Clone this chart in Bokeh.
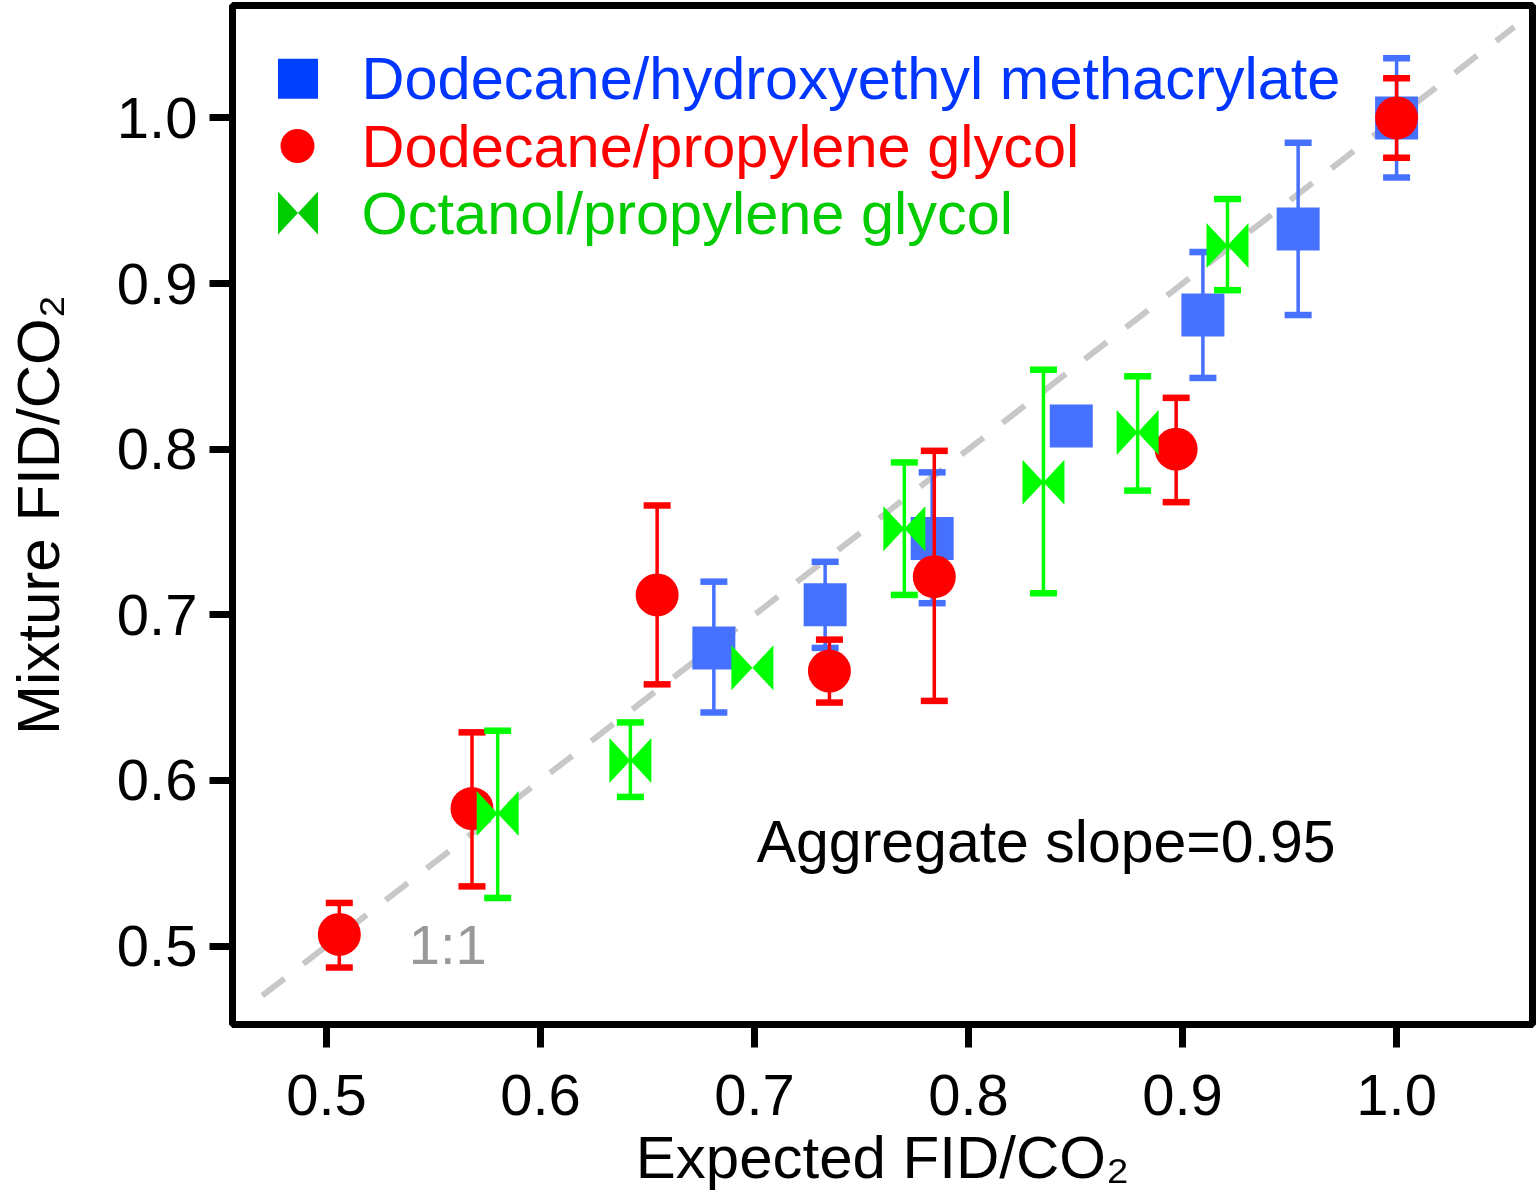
import math
from bokeh.plotting import figure
from bokeh.models import Range1d, FixedTicker, PrintfTickFormatter, Label
from bokeh.core.properties import value
from bokeh.embed import file_html
from bokeh.resources import INLINE

nan = float("nan")

# ---------------- data ----------------
# Dodecane/hydroxyethyl methacrylate (blue squares)
hema_x = [0.681, 0.733, 0.783, 0.848, 0.9095, 0.954, 1.000]
hema_y = [0.680, 0.706, 0.746, 0.814, 0.881, 0.933, 1.000]
hema_hi = [0.720, 0.732, 0.786, nan, 0.919, 0.985, 1.036]
hema_lo = [0.641, 0.680, 0.707, nan, 0.843, 0.881, 0.964]

# Dodecane/propylene glycol (red circles)
pg_x = [0.506, 0.568, 0.6545, 0.735, 0.784, 0.897, 1.000]
pg_y = [0.507, 0.583, 0.712, 0.666, 0.723, 0.800, 1.000]
pg_hi = [0.526, 0.629, 0.766, 0.685, 0.799, 0.831, 1.024]
pg_lo = [0.487, 0.536, 0.658, 0.647, 0.648, 0.768, 0.976]

# Octanol/propylene glycol (green bowties)
oct_x = [0.580, 0.642, 0.699, 0.770, 0.835, 0.879, 0.921]
oct_y = [0.580, 0.612, 0.668, 0.752, 0.780, 0.810, 0.923]
oct_hi = [0.630, 0.635, nan, 0.792, 0.848, 0.844, 0.951]
oct_lo = [0.529, 0.590, nan, 0.712, 0.713, 0.775, 0.896]

one_to_one = [0.470, 1.055]

legend_labels = ["Dodecane/hydroxyethyl methacrylate",
                 "Dodecane/propylene glycol",
                 "Octanol/propylene glycol"]
x_ticks = [0.5, 0.6, 0.7, 0.8, 0.9, 1.0]
x_tick_labels = ["0.5", "0.6", "0.7", "0.8", "0.9", "1.0"]
y_ticks = [0.5, 0.6, 0.7, 0.8, 0.9, 1.0]
y_tick_labels = ["0.5", "0.6", "0.7", "0.8", "0.9", "1.0"]
x_title = "Expected FID/CO\u2082"
y_title = "Mixture FID/CO\u2082"

# ---------------- styling ----------------
FONT = "Liberation Sans"
BLUE, RED, GREEN = "#4671FF", "#FF0000", "#00FF00"
LEG_MARK = ["#0040FF", "#FF0000", "#00CC00"]
LEG_TEXT = ["#0036FF", "#FF0000", "#00CC00"]

W, H = 1536, 1200
BL, BR, BT, BB = 232, 4, 5, 176
FW, FH = W - BL - BR, H - BT - BB
X0, X1 = 0.4561, 1.0635
Y0, Y1 = 0.4526, 1.0679

p = figure(width=W, height=H, x_range=Range1d(X0, X1), y_range=Range1d(Y0, Y1),
           output_backend="svg", toolbar_location=None,
           min_border_left=BL, min_border_right=BR, min_border_top=BT, min_border_bottom=BB,
           x_axis_label=x_title, y_axis_label=y_title)
p.extra_x_ranges = {"px": Range1d(0, FW)}
p.extra_y_ranges = {"px": Range1d(FH, 0)}

p.xgrid.visible = False
p.ygrid.visible = False
p.outline_line_color = "black"
p.outline_line_width = 7
p.outline_line_alpha = 1.0
p.background_fill_color = "white"
p.border_fill_color = "white"

for ax, ticks, labels in ((p.xaxis[0], x_ticks, x_tick_labels), (p.yaxis[0], y_ticks, y_tick_labels)):
    ax.ticker = FixedTicker(ticks=ticks)
    ax.formatter = PrintfTickFormatter(format="%.1f")
    ax.major_label_overrides = dict(zip(ticks, labels))
    ax.axis_line_color = "black"
    ax.axis_line_width = 7
    ax.major_tick_line_width = 7
    ax.major_tick_line_color = "black"
    ax.major_tick_out = 23
    ax.major_tick_in = 0
    ax.minor_tick_line_color = None
    ax.major_label_text_font = FONT
    ax.major_label_text_font_size = "58px"
    ax.major_label_text_color = "black"
    ax.axis_label_text_font = FONT
    ax.axis_label_text_font_size = "60px"
    ax.axis_label_text_font_style = "normal"
    ax.axis_label_text_color = "black"

p.xaxis.major_label_standoff = 27
p.xaxis.axis_label_standoff = 6
p.yaxis.major_label_standoff = 12
p.yaxis.axis_label_standoff = 42

# 1:1 line
p.line(one_to_one, one_to_one, line_color="#C8C8C8", line_width=6, line_dash="28 24")

# pixel -> data scale for bowtie marker
dxp = (X1 - X0) / FW
dyp = (Y1 - Y0) / FH


def bowtie(xs, ys, hx, hy):
    px, py = [], []
    for x, y in zip(xs, ys):
        px.append([x - hx, x, x + hx, x + hx, x, x - hx])
        py.append([y + hy, y, y + hy, y - hy, y, y - hy])
    return px, py


def errorbars(xs, hi, lo, color):
    p.segment(x0=xs, y0=lo, x1=xs, y1=hi, line_color=color, line_width=3.5)
    p.scatter(xs, hi, marker="dash", size=27, line_color=color, line_width=6.5)
    p.scatter(xs, lo, marker="dash", size=27, line_color=color, line_width=6.5)


# blue series
errorbars(hema_x, hema_hi, hema_lo, BLUE)
p.scatter(hema_x, hema_y, marker="square", size=43, fill_color=BLUE, line_color=None)
# red series
errorbars(pg_x, pg_hi, pg_lo, RED)
p.scatter(pg_x, pg_y, marker="circle", size=43, fill_color=RED, line_color=None)
# green series
errorbars(oct_x, oct_hi, oct_lo, GREEN)
bx, by = bowtie(oct_x, oct_y, 21 * dxp, 22.5 * dyp)
p.patches(bx, by, fill_color=GREEN, line_color=None)

# legend (frame pixel coordinates)
leg_mx = [65.5, 65.0, 65.5]
leg_y = [73.3, 140.5, 207.5]
p.scatter([leg_mx[0]], [leg_y[0]], marker="square", size=40, fill_color=LEG_MARK[0], line_color=None,
          x_range_name="px", y_range_name="px")
p.scatter([leg_mx[1]], [leg_y[1]], marker="circle", size=34, fill_color=LEG_MARK[1], line_color=None,
          x_range_name="px", y_range_name="px")
lbx, lby = bowtie([leg_mx[2]], [leg_y[2]], 20, -21.5)
p.patches(lbx, lby, fill_color=LEG_MARK[2], line_color=None, x_range_name="px", y_range_name="px")
p.text(x=[129] * 3, y=leg_y, text=legend_labels, text_color=LEG_TEXT,
       text_font=value(FONT), text_font_size="59.5px", text_baseline="middle", text_align="left",
       x_range_name="px", y_range_name="px")

# annotations
p.add_layout(Label(x=0.7010, y=0.5627, text="Aggregate slope=0.95", text_font=FONT,
                   text_font_size="59px", text_color="black", text_baseline="alphabetic"))
p.add_layout(Label(x=0.5385, y=0.5010, text="1:1", text_font=FONT,
                   text_font_size="56px", text_color="#999999", text_baseline="alphabetic"))

open("out.html", "w").write(file_html(p, INLINE))
